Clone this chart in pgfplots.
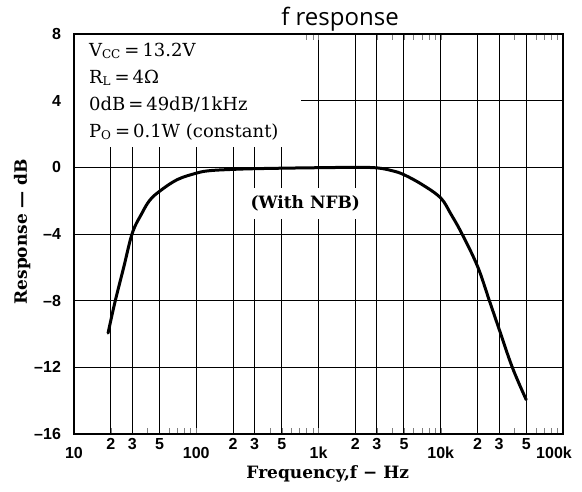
\documentclass[border=0pt]{standalone}
\usepackage{fontspec}
\setmainfont{DejaVu Serif}
\setsansfont{Liberation Sans}
\newfontfamily\titlefont{Open Sans}
\usepackage{pgfplots}
\pgfplotsset{compat=1.18}
\begin{document}
\begin{tikzpicture}
\begin{axis}[
 name=ax,
 width=244.5pt, height=200pt, scale only axis,
 xmode=log, xmin=10, xmax=100000, ymin=-16, ymax=8,
 xtick={10,100,1000,10000,100000},
 xticklabels={10,100,1k,10k,\hspace*{-9pt}100k},
 extra x ticks={20,30,50,200,300,500,2000,3000,5000,20000,30000,50000},
 extra x tick labels={2,3,5,2,3,5,2,3,5,2,3,5},
 extra x tick style={grid=major, xticklabel style={yshift=4.5pt}},
 minor xtick={},
 ytick={-16,-12,-8,-4,0,4,8},
 yticklabels={–16,–12,–8,–4,0,4,8},
 grid=major,
 major grid style={black, line width=0.5pt},
 major tick length=0pt,
 axis line style={line width=0.7pt},
 tick label style={font=\sffamily\bfseries\fontsize{8}{9}\selectfont},
 xticklabel style={yshift=-3pt},
 yticklabel style={xshift=-3pt},
 title={f response},
 title style={at={(axis description cs:0.5,1)}, anchor=base, yshift=-1.5pt, xshift=10.75pt, font=\titlefont\fontsize{12}{14}\selectfont},
 xlabel={Frequency,f − Hz},
 xlabel style={at={(axis description cs:0.519,-0.1)}, anchor=center, font=\bfseries\fontsize{8.5}{10}\selectfont},
 ylabel={Response — dB},
 ylabel style={at={(axis description cs:-0.106,0.506)}, anchor=center, font=\bfseries\fontsize{8.5}{10}\selectfont},
]
\fill[white] ([xshift=0.5pt,yshift=-0.5pt]rel axis cs:0,1) rectangle (axis cs:720,1.2);
\addplot[black, line width=1.5pt, smooth, tension=0.6, line cap=round] coordinates {
 (19,-9.94) (21.6,-8.1) (25.5,-6.0) (30,-3.94) (35.9,-2.76) (41.6,-1.98) (50,-1.44) (69.7,-0.74)
 (100,-0.35) (128,-0.2) (200,-0.12) (300,-0.08) (500,-0.05) (1000,-0.02) (2000,0)
 (3000,-0.03) (4000,-0.2) (5000,-0.44) (7070,-1.04) (10000,-1.84) (12100,-2.8)
 (14800,-3.94) (20000,-5.94) (25100,-8.04) (30000,-9.7) (38500,-12.0) (50000,-13.94)
};
\node[anchor=base west, font=\fontsize{9}{10}\selectfont] at ([xshift=4pt,yshift=-11pt]rel axis cs:0,1) {V\textsubscript{CC}\,=\,13.2V};
\node[anchor=base west, font=\fontsize{9}{10}\selectfont] at ([xshift=4pt,yshift=-24.5pt]rel axis cs:0,1) {R\textsubscript{L}\,=\,4Ω};
\node[anchor=base west, font=\fontsize{9}{10}\selectfont] at ([xshift=4pt,yshift=-38pt]rel axis cs:0,1) {0dB\,=\,49dB/1kHz};
\node[anchor=base west, font=\fontsize{9}{10}\selectfont] at ([xshift=4pt,yshift=-51.5pt]rel axis cs:0,1) {P\textsubscript{O}\,=\,0.1W (constant)};
\node[fill=white, inner xsep=2pt, inner ysep=4pt, font=\bfseries\fontsize{8.5}{10}\selectfont] at (axis cs:780,-2.16) {(With NFB)};
\end{axis}
\path ([shift={(-37pt,-28.5pt)}]ax.south west) rectangle ([shift={(254pt,16.5pt)}]ax.north west);
\end{tikzpicture}
\end{document}
